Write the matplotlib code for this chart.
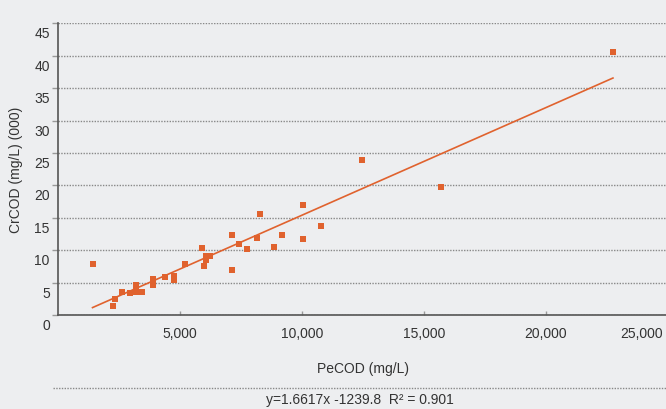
import numpy as np
import matplotlib
matplotlib.use('Agg')
import matplotlib.pyplot as plt
from matplotlib.transforms import ScaledTranslation
from matplotlib.lines import Line2D

# PeCOD (mg/L) vs CrCOD (mg/L, thousands)
pecod = [1434, 2254, 2336, 2623, 2951, 3197, 3197, 3197, 3443, 3893,
         3893, 4385, 4754, 4781, 5205, 5929, 5984, 6093, 6093, 6257,
         7131, 7131, 7445, 7773, 8183, 8306, 8852, 9180, 10041, 10041,
         10779, 12459, 15697, 22746]
crcod = [7.8, 1.4, 2.4, 3.6, 3.4, 4.7, 4.3, 3.6, 3.6, 5.6,
         4.7, 5.9, 5.4, 6.0, 7.8, 10.4, 7.5, 8.5, 9.1, 9.1,
         12.4, 7.0, 11.0, 10.2, 11.9, 15.6, 10.5, 12.4, 16.9, 11.8,
         13.8, 23.9, 19.8, 40.6]
slope = 1.6617
intercept = -1239.8
r2 = 0.901

x_ticks = [5000, 10000, 15000, 20000, 25000]
y_ticks = [0, 5, 10, 15, 20, 25, 30, 35, 40, 45]

bg = '#EDEEF0'
orange = '#E0622E'
txt = '#333333'
plt.rcParams['font.family'] = ['Liberation Sans', 'DejaVu Sans']

fig = plt.figure(figsize=(6.66, 4.10), dpi=100, facecolor=bg)
ax = fig.add_axes([57.5 / 666, 1 - 316 / 410, (668 - 57.5) / 666, (316 - 24.3) / 410])
ax.set_facecolor(bg)

ax.scatter(pecod, crcod, marker='s', s=13, color=orange, linewidths=0, zorder=3)
xl = np.array([min(pecod), max(pecod)])
ax.plot(xl, (slope * xl + intercept) / 1000, color=orange, lw=1.2, zorder=2)

ax.set_xlim(0, 25000)
ax.set_ylim(0, 45)
ax.set_xticks(x_ticks)
# last label would run off the right edge, so it is drawn separately below
ax.set_xticklabels([f'{v:,}' for v in x_ticks[:-1]] + [''])
ax.annotate(f'{x_ticks[-1]:,}', xy=(x_ticks[-1], 0), xycoords=('data', 'axes fraction'),
            xytext=(-4, -8), textcoords='offset points', ha='right', va='top',
            fontsize=10, color=txt, annotation_clip=False)
ax.set_yticks(y_ticks)

for s in ['top', 'right']:
    ax.spines[s].set_visible(False)
for s in ['left', 'bottom']:
    ax.spines[s].set_color('#555555')
    ax.spines[s].set_linewidth(1.2)

ax.yaxis.grid(True, color='#888888', linestyle=(0, (1, 1)), linewidth=1.0)
ax.set_axisbelow(True)
ax.tick_params(axis='y', direction='out', length=4, width=1, color='#999999',
               labelsize=10, labelcolor=txt, pad=1.5)
ax.tick_params(axis='x', direction='in', length=3, width=1, color='#999999',
               labelsize=10, labelcolor=txt, pad=8)

# y tick labels sit a bit below their gridlines
off = ScaledTranslation(0, -0.085, fig.dpi_scale_trans)
for lab in ax.get_yticklabels():
    lab.set_transform(lab.get_transform() + off)

ax.set_xlabel('PeCOD (mg/L)', fontsize=10, color=txt, va='center')
ax.xaxis.set_label_coords(0.5, -(369 - 316) / 291.7)
ax.set_ylabel('CrCOD (mg/L) (000)', fontsize=10, color=txt, va='center')
ax.yaxis.set_label_coords(-(57.5 - 16) / 610, 0.5)

fig.add_artist(Line2D([53 / 666, 1], [1 - 389 / 410] * 2, transform=fig.transFigure,
                      color='#888888', linestyle=(0, (1, 1)), linewidth=1.0))
fig.text(360 / 666, 1 - 400 / 410, f'y={slope}x {intercept}  R\u00b2 = {r2}',
         ha='center', va='center', fontsize=10, color=txt)

fig.savefig('out.png', dpi=100, facecolor=bg)
